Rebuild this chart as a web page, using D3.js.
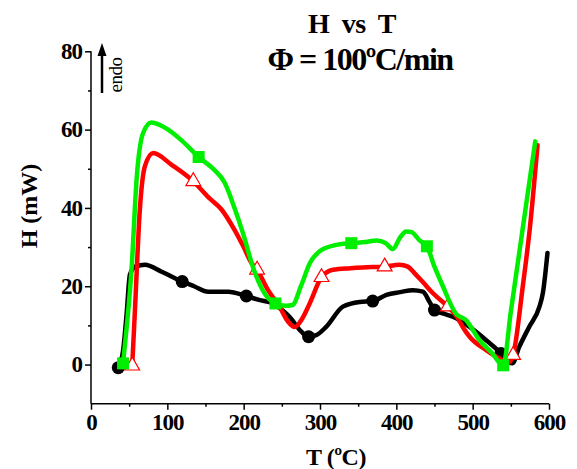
<!DOCTYPE html>
<html>
<head>
<meta charset="utf-8">
<script src="https://cdn.jsdelivr.net/npm/d3@7"></script>
<style>
  body { margin: 0; background: #fff; }
  text { font-family: "Liberation Serif", "Times New Roman", serif; }
</style>
</head>
<body>
<div id="chart-area"></div>
<script>
// DSC curves, H (mW) vs T (ºC), heating rate 100ºC/min
var blackT = [35.7, 42, 46.7, 51, 58, 70.7, 92.5, 119.5, 135, 153.5, 179.6, 203.5, 220, 238.5, 250, 260, 275.6, 285, 295, 308, 330, 352, 369, 387, 405, 421.7, 434.8, 443.5, 450, 462, 474, 496, 517.7, 537, 545, 552, 561, 574, 587.5, 592, 598];
var blackH = [-0.8, 3.5, 13, 23, 25, 25.5, 23.7, 21.2, 20, 18.6, 18.6, 17.5, 16.5, 15.6, 14, 12.2, 8.4, 7.1, 7.5, 9.6, 14.8, 16, 16.2, 17.8, 18.5, 19, 18.6, 16, 13.9, 13, 12.2, 9.6, 6.2, 2.8, 0.8, 0.3, 4.5, 9.6, 14.8, 18.3, 28.5];

var redT = [54, 57.6, 64, 70.7, 81.5, 105.6, 134, 155, 171, 188, 200, 210, 217.6, 232, 247, 258, 267, 276, 286.5, 302, 317, 340, 356, 384.7, 404, 415, 424, 435, 448, 467.5, 480, 487, 496, 517.7, 539.5, 547, 553, 565.6, 575, 585];
var redH = [-0.3, 14, 39.6, 50.7, 54, 51, 46.8, 42.5, 39.6, 34.4, 30, 26, 24.2, 19, 14.8, 11, 9.6, 11.5, 15.6, 22.3, 24.2, 24.6, 24.8, 25, 25.5, 25, 23.3, 21, 18.2, 14.8, 12, 9.6, 7.1, 3.7, 1.1, 0.5, 2.4, 19.9, 35, 56];

var greenT = [42, 47, 53, 60, 68, 79, 101, 120, 141, 160, 175, 188, 200, 212, 228, 241.6, 255, 264, 275, 287, 300, 320, 341, 360, 374, 386, 395.5, 405, 413, 420, 430, 440, 450, 461, 478, 491, 509, 525, 540, 550, 561, 572, 582];
var greenH = [0.3, 10, 24, 48, 59, 61.8, 60, 57, 53, 50, 46.5, 40, 33, 25, 18, 15.6, 15, 15.2, 20, 26, 29, 30.5, 31, 31.3, 31.7, 31, 29.5, 32.5, 34, 33.8, 31.8, 30.2, 25, 20, 13, 11.4, 6.2, 3, -0.2, 13.5, 28.5, 43.5, 57];

// symbols sit on the curves
var circleT = [35.7, 119.5, 203.5, 285, 369, 450, 537];
var circleH = [-0.8, 21.2, 17.5, 7.1, 16.2, 13.9, 2.8];
var triT = [54, 134, 217.6, 302, 384.7, 467.5, 553];
var triH = [-0.3, 46.8, 24.2, 22.3, 25, 14.8, 2.4];
var squareT = [42, 141, 241.6, 341, 440, 540];
var squareH = [0.3, 53, 15.6, 31, 30.2, -0.2];

var xTicks = [0, 100, 200, 300, 400, 500, 600];
var xMinor = [50, 150, 250, 350, 450, 550];
var yTicks = [0, 20, 40, 60, 80];
var yMinor = [10, 30, 50, 70];

var width = 577, height = 469;

var svg = d3.select("#chart-area")
  .append("svg")
  .attr("width", width)
  .attr("height", height);

var x = d3.scaleLinear().domain([0, 600]).range([91, 549]);
var y = d3.scaleLinear().domain([-10, 80]).range([403.7, 51.3]);

// axes
var xAxis = svg.append("g")
  .attr("transform", "translate(0," + y(-10) + ")")
  .call(d3.axisBottom(x).tickValues(xTicks).tickSize(6).tickPadding(4));
svg.append("g")
  .attr("transform", "translate(0," + y(-10) + ")")
  .call(d3.axisBottom(x).tickValues(xMinor).tickSize(3).tickFormat(""))
  .select(".domain").remove();

var yAxis = svg.append("g")
  .attr("transform", "translate(" + x(0) + ",0)")
  .call(d3.axisLeft(y).tickValues(yTicks).tickSize(6).tickPadding(3));
svg.append("g")
  .attr("transform", "translate(" + x(0) + ",0)")
  .call(d3.axisLeft(y).tickValues(yMinor).tickSize(3).tickFormat(""))
  .select(".domain").remove();

xAxis.select(".domain").attr("d", "M" + x(0) + ",0H" + x(600));
yAxis.select(".domain").attr("d", "M0," + y(-10) + "V" + y(80));
svg.selectAll(".domain, .tick line").attr("stroke", "#000").attr("stroke-width", 1.5);
svg.selectAll(".tick text")
  .attr("font-family", "Liberation Serif")
  .attr("font-weight", "bold")
  .attr("font-size", "23px")
  .attr("letter-spacing", "-1px")
  .attr("fill", "#000");

// curves
var line = d3.line()
  .x(function(d) { return x(d[0]); })
  .y(function(d) { return y(d[1]); })
  .curve(d3.curveMonotoneX);

function drawSeries(ts, hs, color) {
  var pts = ts.map(function(t, i) { return [t, hs[i]]; });
  svg.append("path")
    .datum(pts)
    .attr("fill", "none")
    .attr("stroke", color)
    .attr("stroke-width", 4.5)
    .attr("stroke-linejoin", "round")
    .attr("stroke-linecap", "round")
    .attr("d", line);
}

drawSeries(blackT, blackH, "#000");
svg.selectAll(".circ")
  .data(circleT)
  .enter().append("circle")
  .attr("cx", function(d) { return x(d); })
  .attr("cy", function(d, i) { return y(circleH[i]); })
  .attr("r", 6.5)
  .attr("fill", "#000");

drawSeries(redT, redH, "#ff0000");
svg.selectAll(".tri")
  .data(triT)
  .enter().append("path")
  .attr("transform", function(d, i) { return "translate(" + x(d) + "," + y(triH[i]) + ")"; })
  .attr("d", d3.symbol().type(d3.symbolTriangle).size(95))
  .attr("fill", "#fff")
  .attr("stroke", "#ff0000")
  .attr("stroke-width", 1.2);

drawSeries(greenT, greenH, "#00ee00");
svg.selectAll(".sq")
  .data(squareT)
  .enter().append("rect")
  .attr("x", function(d) { return x(d) - 6; })
  .attr("y", function(d, i) { return y(squareH[i]) - 6; })
  .attr("width", 12)
  .attr("height", 12)
  .attr("fill", "#00ee00");

// titles and labels
svg.append("text")
  .attr("x", 352).attr("y", 33)
  .attr("text-anchor", "middle")
  .attr("font-weight", "bold")
  .attr("font-size", "28px")
  .attr("letter-spacing", "-0.5px")
  .attr("word-spacing", "6px")
  .text("H vs T");

svg.append("text")
  .attr("x", 360).attr("y", 70)
  .attr("text-anchor", "middle")
  .attr("font-weight", "bold")
  .attr("font-size", "32px")
  .attr("letter-spacing", "-1.5px")
  .text("Φ = 100ºC/min");

svg.append("text")
  .attr("transform", "translate(37,206) rotate(-90)")
  .attr("text-anchor", "middle")
  .attr("font-weight", "bold")
  .attr("font-size", "24px")
  .text("H (mW)");

svg.append("text")
  .attr("x", 336).attr("y", 465)
  .attr("text-anchor", "middle")
  .attr("font-weight", "bold")
  .attr("font-size", "24px")
  .attr("letter-spacing", "-0.5px")
  .text("T (ºC)");

// endo arrow
svg.append("line")
  .attr("x1", 102).attr("x2", 102)
  .attr("y1", 93).attr("y2", 52)
  .attr("stroke", "#000").attr("stroke-width", 2.5);
svg.append("path")
  .attr("d", "M97.5,56 L102,43 L106.5,56 Z")
  .attr("fill", "#000");
svg.append("text")
  .attr("transform", "translate(122,75) rotate(-90)")
  .attr("text-anchor", "middle")
  .attr("font-size", "19px")
  .attr("letter-spacing", "-0.5px")
  .text("endo");
</script>
</body>
</html>
